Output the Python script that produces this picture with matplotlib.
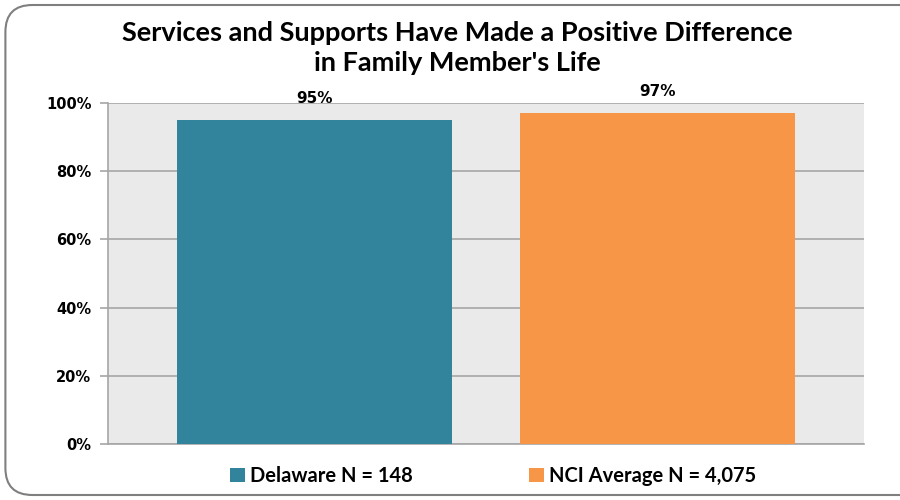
import matplotlib
matplotlib.use("Agg")
import matplotlib.pyplot as plt
from matplotlib.patches import FancyBboxPatch, Patch

title = "Services and Supports Have Made a Positive Difference\nin Family Member's Life"
series = ["Delaware N = 148", "NCI Average N = 4,075"]
values = [95, 97]
value_labels = ["95%", "97%"]
colors = ["#31849B", "#F79646"]
yticks = [0, 20, 40, 60, 80, 100]
ytick_labels = ["0%", "20%", "40%", "60%", "80%", "100%"]

fig = plt.figure(figsize=(9, 5), dpi=100)
fig.patch.set_facecolor("white")

# rounded frame
frame = FancyBboxPatch((0.006, 0.01), 1.05, 0.98, boxstyle="round,pad=0,rounding_size=0.03",
                       transform=fig.transFigure, fill=False, edgecolor="#7f7f7f",
                       linewidth=1.5, mutation_aspect=1.8)
fig.patches.append(frame)

ax = fig.add_axes([0.12, 0.112, 0.84, 0.682])
ax.set_facecolor("#EAEAEA")
x = list(range(len(values)))
bars = ax.bar(x, values, width=0.8, color=colors, zorder=3)
ax.set_xlim(-0.6, 1.6)
ax.set_ylim(0, 100)
ax.set_yticks(yticks)
ax.set_yticklabels(ytick_labels, fontsize=10.5, fontweight="bold", family="DejaVu Sans")
ax.set_xticks([])
ax.grid(axis="y", color="#A6A6A6", linewidth=1.2, zorder=1)
for s in ["top", "right"]:
    ax.spines[s].set_visible(False)
ax.spines["left"].set_color("#A6A6A6")
ax.spines["bottom"].set_color("#A6A6A6")
ax.spines["left"].set_linewidth(1.2)
ax.spines["bottom"].set_linewidth(1.2)
ax.tick_params(axis="y", length=6, color="#A6A6A6", width=1.2, pad=6)

for xi, v, lab in zip(x, values, value_labels):
    ax.annotate(lab, (xi, v), xytext=(0, 10), textcoords="offset points",
                ha="center", va="bottom", fontsize=11, fontweight="bold", family="DejaVu Sans")

fig.text(0.508, 0.904, title, ha="center", va="center", fontsize=19.5, fontweight="bold",
         family="Lato", linespacing=1.32)

handles = [Patch(facecolor=c, edgecolor="none") for c in colors]
fig.legend(handles, series, loc="center", bbox_to_anchor=(0.548, 0.048), ncol=2,
           frameon=False, prop={"family": "Lato", "weight": "bold", "size": 14.5},
           handlelength=0.75, handleheight=0.75, handletextpad=0.25, columnspacing=5.75)

fig.savefig("out.png", dpi=100)
